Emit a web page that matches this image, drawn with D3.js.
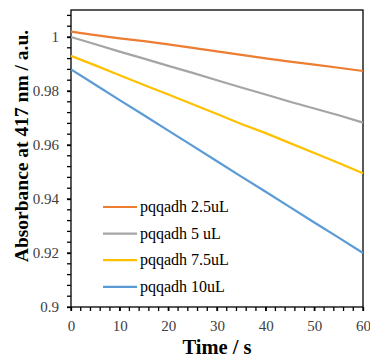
<!DOCTYPE html>
<html lang="en">
<head>
    <meta charset="UTF-8">
    <script src="https://cdn.jsdelivr.net/npm/d3@7"></script>
    <title>Absorbance vs time</title>
    <style>
        body { margin: 0; background: white; }
        svg { display: block; }
        .axis-title { font-family: "Liberation Serif", "Times New Roman", serif; font-weight: bold; fill: #000; }
        .legend text { font-family: "Liberation Serif", "Times New Roman", serif; font-size: 16px; fill: #000; }
    </style>
</head>
<body>
<div id="container"></div>
<script>
    // time points (s)
    const times = [0, 5, 10, 15, 20, 25, 30, 35, 40, 45, 50, 55, 60];

    const names = ["pqqadh 2.5uL", "pqqadh 5 uL", "pqqadh 7.5uL", "pqqadh 10uL"];
    const colors = ["#ED7D31", "#A5A5A5", "#FFC000", "#5B9BD5"];

    const abs_25 = [1.002, 1.0007, 0.9995, 0.9985, 0.9973, 0.9960, 0.9947, 0.9934, 0.9921, 0.9909, 0.9898, 0.9886, 0.9874];
    const abs_5 = [1.000, 0.9973, 0.9946, 0.9920, 0.9893, 0.9867, 0.9840, 0.9813, 0.9787, 0.9760, 0.9735, 0.9710, 0.9683];
    const abs_75 = [0.993, 0.9895, 0.9858, 0.9822, 0.9787, 0.9751, 0.9715, 0.9678, 0.9644, 0.9607, 0.9570, 0.9533, 0.9495];
    const abs_10 = [0.988, 0.9823, 0.9766, 0.9710, 0.9653, 0.9597, 0.9540, 0.9483, 0.9427, 0.9370, 0.9313, 0.9257, 0.9200];

    const xTicks = [0, 10, 20, 30, 40, 50, 60];
    const yTicks = [0.9, 0.92, 0.94, 0.96, 0.98, 1];

    const series = [abs_25, abs_5, abs_75, abs_10];

    const width = 370, height = 360;
    const margin = { top: 10, right: 7, bottom: 53, left: 71 };
    const serif = '"Liberation Serif", "Times New Roman", serif';

    const svg = d3.select("#container").append("svg")
        .attr("width", width)
        .attr("height", height);

    const x = d3.scaleLinear().domain([0, 60]).range([margin.left, width - margin.right]);
    const y = d3.scaleLinear().domain([0.9, 1.01]).range([height - margin.bottom, margin.top]);

    // frame
    svg.append("rect")
        .attr("x", x(0)).attr("y", y(1.01))
        .attr("width", x(60) - x(0)).attr("height", y(0.9) - y(1.01))
        .attr("fill", "none").attr("stroke", "#000").attr("stroke-width", 1.3);

    // minor ticks
    const minorY = d3.range(0, 28).map(i => 0.9 + i * 0.004).filter(v => v <= 1.0101);
    svg.append("g").selectAll("line").data(minorY).enter().append("line")
        .attr("x1", x(0) - 4).attr("x2", x(0))
        .attr("y1", d => y(d)).attr("y2", d => y(d))
        .attr("stroke", "#000").attr("stroke-width", 1.3);

    const minorX = d3.range(0, 31).map(i => i * 2);
    svg.append("g").selectAll("line").data(minorX).enter().append("line")
        .attr("x1", d => x(d)).attr("x2", d => x(d))
        .attr("y1", y(0.9)).attr("y2", y(0.9) + 4)
        .attr("stroke", "#000").attr("stroke-width", 1.3);

    const yAxis = svg.append("g")
        .attr("transform", `translate(${x(0)},0)`)
        .call(d3.axisLeft(y).tickValues(yTicks).tickFormat(d3.format("~g")).tickSize(4).tickPadding(8))
        .attr("font-family", serif)
        .attr("font-size", 15);
    yAxis.select(".domain").remove();
    yAxis.selectAll(".tick line").attr("stroke", "#000").attr("stroke-width", 1.3);
    yAxis.selectAll(".tick text").attr("fill", "#404040");

    const xAxis = svg.append("g")
        .attr("transform", `translate(0,${y(0.9)})`)
        .call(d3.axisBottom(x).tickValues(xTicks).tickSize(4).tickPadding(9))
        .attr("font-family", serif)
        .attr("font-size", 15);
    xAxis.select(".domain").remove();
    xAxis.selectAll(".tick line").attr("stroke", "#000").attr("stroke-width", 1.3);
    xAxis.selectAll(".tick text").attr("fill", "#404040");

    const line = d3.line()
        .x((d, i) => x(times[i]))
        .y(d => y(d));

    svg.append("g").selectAll("path").data(series).enter().append("path")
        .attr("d", d => line(d))
        .attr("fill", "none")
        .attr("stroke", (d, i) => colors[i])
        .attr("stroke-width", 2.2);

    // axis titles
    svg.append("text").attr("class", "axis-title")
        .attr("x", (x(0) + x(60)) / 2).attr("y", 354)
        .attr("font-size", "20.5px")
        .attr("text-anchor", "middle")
        .text("Time / s");

    svg.append("text").attr("class", "axis-title")
        .attr("transform", "translate(28,146) rotate(-90)")
        .attr("font-size", "19.5px")
        .attr("text-anchor", "middle")
        .text("Absorbance at 417 nm / a.u.");

    // legend
    const legend = svg.append("g").attr("class", "legend");
    const items = legend.selectAll("g").data(names).enter().append("g")
        .attr("transform", (d, i) => `translate(103,${207 + i * 26.6})`);
    items.append("line")
        .attr("x1", 0).attr("x2", 34)
        .attr("stroke", (d, i) => colors[i])
        .attr("stroke-width", 2.2);
    items.append("text")
        .attr("x", 37).attr("y", 5)
        .text(d => d);
</script>
</body>
</html>
